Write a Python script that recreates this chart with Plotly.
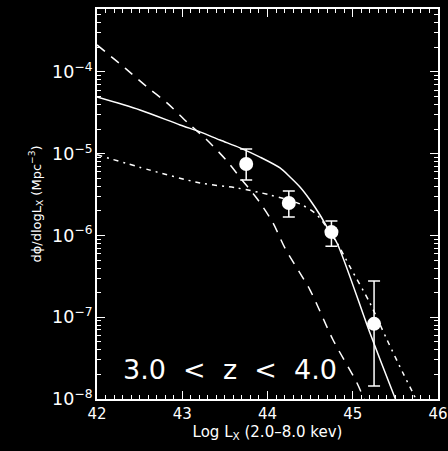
import plotly.graph_objects as go

# binned data points (log Lx, dphi/dlogLx) with asymmetric errors
lx_pts = [43.75, 44.25, 44.75, 45.25]
phi_pts = [7.5e-6, 2.5e-6, 1.1e-6, 8.3e-8]
phi_hi = [1.14e-5, 3.5e-6, 1.5e-6, 2.77e-7]
phi_lo = [4.78e-6, 1.68e-6, 7.4e-7, 1.44e-8]

# solid model curve
lx_solid = [42.0, 42.504, 42.974, 43.208, 43.443, 43.677, 43.912, 44.147,
            44.264, 44.381, 44.499, 44.616, 44.698, 44.815, 45.202, 45.496, 45.55]
phi_solid = [4.94e-5, 3.43e-5, 2.25e-5, 1.85e-5, 1.47e-5, 1.18e-5, 9.1e-6,
             6.7e-6, 5.2e-6, 3.92e-6, 2.72e-6, 1.78e-6, 1.27e-6, 8.1e-7,
             6.4e-8, 1.03e-8, 7.4e-9]

# dashed model curve
lx_dash = [42.0, 42.340, 42.587, 42.821, 43.067, 43.290, 43.513, 43.701,
           43.889, 44.065, 44.205, 44.499, 44.768, 45.050, 45.132, 45.2]
phi_dash = [2.14e-4, 1.09e-4, 6.56e-5, 4.18e-5, 2.38e-5, 1.47e-5, 8.4e-6,
            4.78e-6, 2.72e-6, 1.42e-6, 7.0e-7, 2.15e-7, 5.3e-8, 1.57e-8,
            1.0e-8, 7.0e-9]

# dash-dot model curve
lx_dot = [42.0, 42.622, 43.208, 43.642, 44.029, 44.381, 44.581, 44.815,
          44.968, 45.202, 45.402, 45.589, 45.707, 45.76]
phi_dot = [9.7e-6, 6.3e-6, 4.39e-6, 3.81e-6, 3.13e-6, 2.43e-6, 1.78e-6,
           8.1e-7, 4.12e-7, 1.49e-7, 5.3e-8, 2.08e-8, 1.18e-8, 9e-9]

x_ticks = [42, 43, 44, 45, 46]

fnt = "DejaVu Sans"

fig = go.Figure()
fig.add_trace(go.Scatter(x=lx_dash, y=phi_dash, mode="lines",
                         line=dict(color="white", width=1.5, dash="10px,8px",
                                   shape="spline", smoothing=0.8)))
fig.add_trace(go.Scatter(x=lx_dot, y=phi_dot, mode="lines",
                         line=dict(color="white", width=1.5, dash="5px,5px,2px,5px",
                                   shape="spline", smoothing=0.8)))
fig.add_trace(go.Scatter(x=lx_solid, y=phi_solid, mode="lines",
                         line=dict(color="white", width=1.5,
                                   shape="spline", smoothing=0.8)))
fig.add_trace(go.Scatter(
    x=lx_pts, y=phi_pts, mode="markers",
    marker=dict(color="white", size=14, symbol="circle"),
    error_y=dict(type="data", symmetric=False,
                 array=[h - p for h, p in zip(phi_hi, phi_pts)],
                 arrayminus=[p - l for p, l in zip(phi_pts, phi_lo)],
                 color="white", thickness=1.5, width=6)))

fig.add_annotation(x=43.56, y=-7.645, xref="x", yref="y",
                   text="3.0\u00a0\u00a0<\u00a0\u00a0z\u00a0\u00a0<\u00a0\u00a04.0",
                   showarrow=False, font=dict(family=fnt, size=27, color="white"))

fig.update_xaxes(range=[42, 46], tickvals=x_ticks, ticktext=[str(t) for t in x_ticks],
                 ticks="inside", ticklen=8, tickcolor="white", tickwidth=1,
                 minor=dict(dtick=0.1, ticks="inside", ticklen=4, tickcolor="white"),
                 showline=True, linecolor="white", linewidth=1.5, mirror="allticks",
                 showgrid=False, zeroline=False, automargin=False,
                 tickfont=dict(family=fnt, size=15, color="white"),
                 title=dict(text="Log L<sub>X</sub> (2.0\u20138.0 kev)",
                            font=dict(family=fnt, size=15, color="white"), standoff=4))
fig.update_yaxes(type="log", range=[-8, -3.23], dtick=1, exponentformat="power",
                 ticks="inside", ticklen=8, tickcolor="white", tickwidth=1,
                 minor=dict(dtick="D1", ticks="inside", ticklen=4, tickcolor="white"),
                 showline=True, linecolor="white", linewidth=1.5, mirror="allticks",
                 showgrid=False, zeroline=False, automargin=False,
                 tickfont=dict(family=fnt, size=14, color="white"),
                 title=dict(text="d\u03d5/dlogL<sub>X</sub> (Mpc<sup>\u22123</sup>)",
                            font=dict(family=fnt, size=13, color="white"), standoff=8))

fig.update_layout(width=448, height=451, showlegend=False,
                  paper_bgcolor="black", plot_bgcolor="black",
                  margin=dict(l=97, r=10, t=9, b=52))

# drop the default page margin so the black figure fills the window
fig.write_html("out.html", config={"displayModeBar": False},
               post_script="document.body.style.margin='0';"
                           "document.body.style.background='black';")
